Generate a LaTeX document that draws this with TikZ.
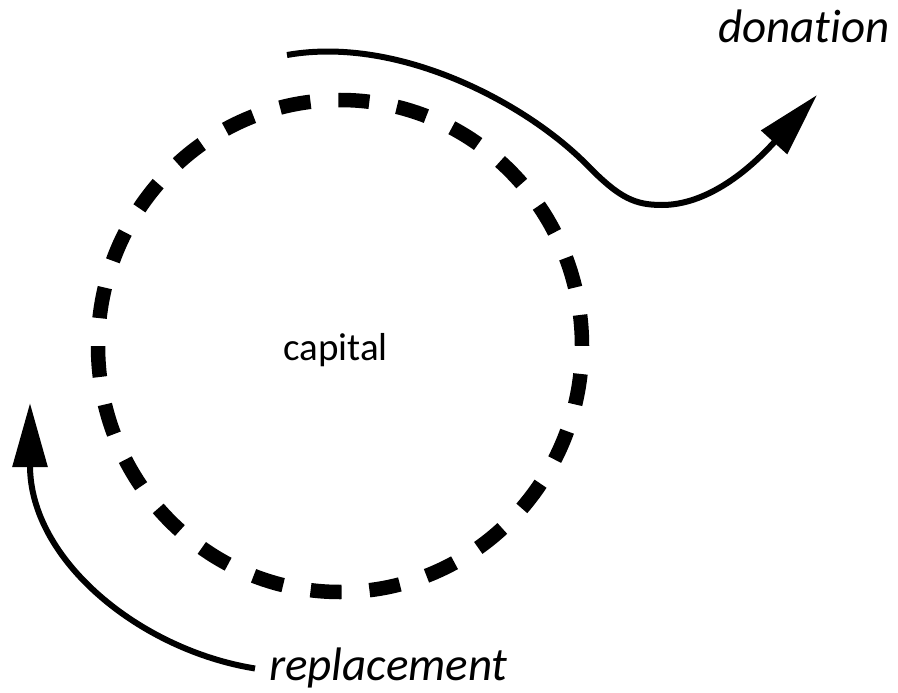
\documentclass[tikz,border=0pt]{standalone}
\usepackage{fontspec}
\setmainfont{Carlito}[Ligatures=NoCommon]
\usetikzlibrary{arrows.meta}
\begin{document}
\begin{tikzpicture}[x=1pt,y=-1pt,
  flow/.style={line width=6pt, -{Triangle[length=64pt,width=34pt]}},
  ring/.style={line width=14.5pt, dash pattern=on 31pt off 27.97pt, dash phase=31pt},
  lbl/.style={font=\fontsize{47}{50}\selectfont\itshape, inner sep=0pt, anchor=base west},
  ctr/.style={font=\fontsize{39}{42}\selectfont, inner sep=0pt, anchor=base west}]
\useasboundingbox (0,0) rectangle (898,693);
% dashed ring
\draw[ring] (340,346) ellipse [x radius=242, y radius=246];
% labels
\node[ctr] (cap) at (283,360) {capital};
\node[lbl] (don) at (718,43) {donation};
\node[lbl] (rep) at (269,680) {replacement};
% donation arrow
\coordinate (dstart) at (287,55);
\coordinate (dbend) at (590,168);
\coordinate (dlow) at (662,205);
\coordinate (dtip) at (817,95);
\draw[flow] (dstart) .. controls (400,35) and (530,105) .. (dbend)
  .. controls (620,198) and (635,205) .. (dlow)
  .. controls (700,205) and (740,180) .. (dtip);
% replacement arrow
\coordinate (rstart) at ([xshift=-14pt,yshift=-1pt]rep.west);
\coordinate (rtip) at (30,403);
\draw[flow] (rstart) .. controls (140,650) and (30,560) .. (rtip);
\end{tikzpicture}
\end{document}
